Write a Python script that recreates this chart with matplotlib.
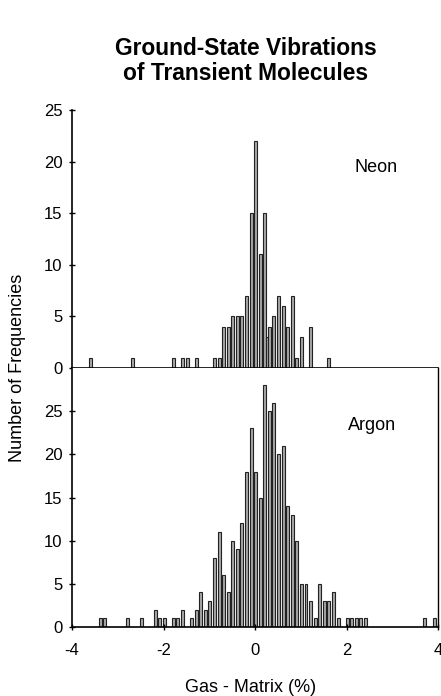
import matplotlib
matplotlib.use("Agg")
import matplotlib.pyplot as plt

plt.rcParams['font.family'] = ['Liberation Sans', 'DejaVu Sans']

# Neon: bin value (% gas - matrix) and number of frequencies
neon_x = [-3.6, -2.7, -1.8, -1.6, -1.5, -1.3, -0.9, -0.8, -0.7, -0.6, -0.5, -0.4,
          -0.3, -0.2, -0.1, 0.0, 0.1, 0.2, 0.25, 0.3, 0.4, 0.5, 0.6, 0.7, 0.8,
          0.9, 1.0, 1.2, 1.6]
neon_n = [1, 1, 1, 1, 1, 1, 1, 1, 4, 4, 5, 5,
          5, 7, 15, 22, 11, 15, 3, 4, 5, 7, 6, 4, 7,
          1, 3, 4, 1]

# Argon
argon_x = [-3.4, -3.3, -2.8, -2.5, -2.2, -2.1, -2.0, -1.8, -1.7, -1.6, -1.4, -1.3,
           -1.2, -1.1, -1.0, -0.9, -0.8, -0.7, -0.6, -0.5, -0.4, -0.3, -0.2, -0.1,
           0.0, 0.1, 0.2, 0.3, 0.4, 0.5, 0.6, 0.7, 0.8, 0.9, 1.0, 1.1, 1.2, 1.3,
           1.4, 1.5, 1.6, 1.7, 1.8, 2.0, 2.1, 2.2, 2.3, 2.4, 3.7, 3.9]
argon_n = [1, 1, 1, 1, 2, 1, 1, 1, 1, 2, 1, 2,
           4, 2, 3, 8, 11, 6, 4, 10, 9, 12, 18, 23,
           18, 15, 28, 25, 26, 20, 21, 14, 13, 10, 5, 5, 3, 1,
           5, 3, 3, 4, 1, 1, 1, 1, 1, 1, 1, 1]

title = "Ground-State Vibrations\nof Transient Molecules"
x_ticks = [-4, -2, 0, 2, 4]
neon_yticks = [0, 5, 10, 15, 20, 25]
argon_yticks = [0, 5, 10, 15, 20, 25]

W, H = 441, 696
fig = plt.figure(figsize=(W / 100, H / 100), dpi=100)

left = 72 / W
width = (438 - 72) / W
ax1 = fig.add_axes([left, 1 - 368 / H, width, (368 - 110) / H])
ax2 = fig.add_axes([left, 1 - 627 / H, width, (627 - 368) / H])

bar_kw = dict(width=0.065, color='#a8a8a8', edgecolor='#222222', linewidth=0.8, align='center')
ax1.bar([v + 0.015 for v in neon_x], neon_n, **bar_kw)
ax2.bar([v + 0.015 for v in argon_x], argon_n, **bar_kw)

for ax in (ax1, ax2):
    ax.set_xlim(-4, 4)
    ax.spines['top'].set_visible(False)
    ax.spines['left'].set_linewidth(1.2)
    ax.spines['bottom'].set_linewidth(1.2)
    ax.tick_params(axis='both', direction='inout', length=5, width=1.0,
                   labelsize=12, colors='black')
    ax.tick_params(axis='y', pad=4.5)

ax1.set_ylim(0, 25)
ax1.set_yticks(neon_yticks)
ax1.set_xticks(x_ticks)
ax1.tick_params(axis='x', labelbottom=False, length=0)
ax1.spines['right'].set_visible(False)

ax2.set_ylim(0, 30)
ax2.set_yticks(argon_yticks)
ax2.set_xticks(x_ticks)
ax2.set_xticklabels([str(t) for t in x_ticks])
ax2.tick_params(axis='x', pad=9)
ax2.spines['right'].set_linewidth(1.0)

fig.text(355 / W, 1 - 168 / H, "Neon", fontsize=13, va='center', ha='left')
fig.text(348 / W, 1 - 426 / H, "Argon", fontsize=13, va='center', ha='left')

fig.text(246 / W, 1 - 61 / H, title, ha='center', va='center', fontsize=16.4,
         fontweight='bold', linespacing=1.1)
fig.text(251 / W, 1 - 688 / H, "Gas - Matrix (%)", ha='center', va='center', fontsize=13)
fig.text(18 / W, 1 - 368 / H, "Number of Frequencies", ha='center', va='center',
         rotation=90, fontsize=13)

fig.savefig("out.png", dpi=100)
